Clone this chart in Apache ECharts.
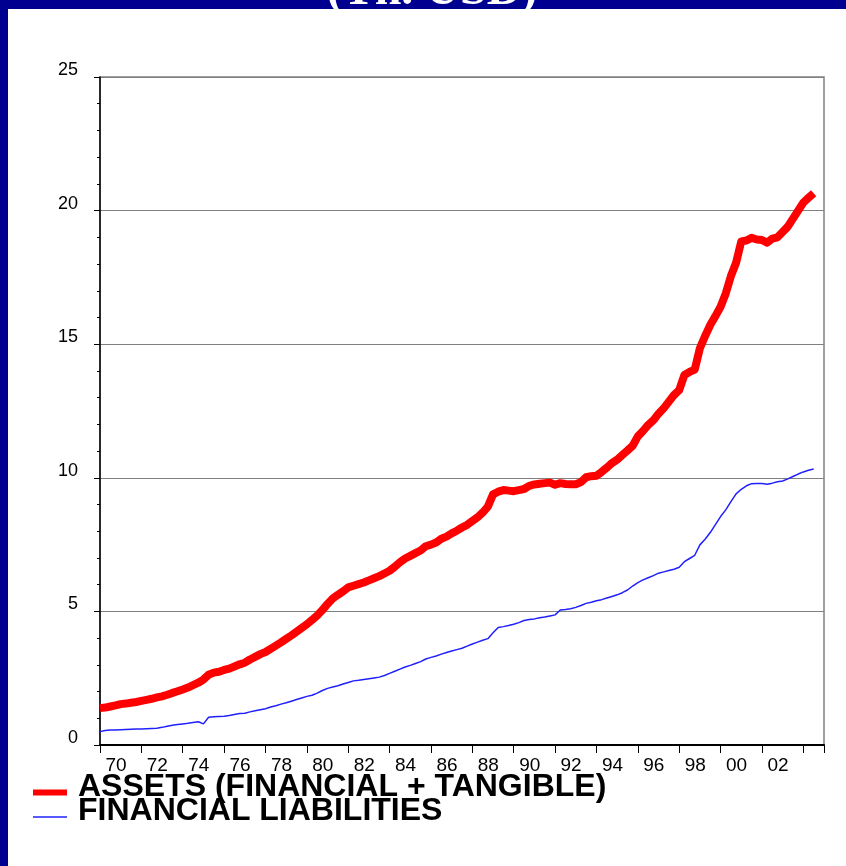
<!DOCTYPE html>
<html>
<head>
<meta charset="utf-8">
<script src="https://cdn.jsdelivr.net/npm/echarts@6/dist/echarts.min.js"></script>
<style>
  html, body { margin: 0; padding: 0; background: #000090; }
  #chart { width: 846px; height: 866px; }
</style>
</head>
<body>
<div id="chart"></div>
<script>
// Quarterly series, 1970Q1 onward (trillions of USD)
const startYear = 1970;
const quartersPerYear = 4;

const assets = [
  1.38, 1.40, 1.44, 1.48,   // 1970
  1.53, 1.55, 1.58, 1.61,   // 1971
  1.65, 1.69, 1.73, 1.78,   // 1972
  1.82, 1.88, 1.95, 2.01,   // 1973
  2.08, 2.15, 2.24, 2.33,   // 1974
  2.45, 2.63, 2.71, 2.74,   // 1975
  2.81, 2.86, 2.94, 3.02,   // 1976
  3.08, 3.20, 3.30, 3.40,   // 1977
  3.48, 3.60, 3.72, 3.84,   // 1978
  3.97, 4.10, 4.24, 4.38,   // 1979
  4.52, 4.68, 4.85, 5.05,   // 1980
  5.28, 5.48, 5.62, 5.75,   // 1981
  5.90, 5.96, 6.02, 6.08,   // 1982
  6.16, 6.24, 6.32, 6.42,   // 1983
  6.52, 6.67, 6.84, 6.98,   // 1984
  7.08, 7.18, 7.28, 7.44,   // 1985
  7.50, 7.58, 7.72, 7.80,   // 1986
  7.92, 8.02, 8.14, 8.24,   // 1987
  8.38, 8.52, 8.70, 8.92,   // 1988
  9.38, 9.48, 9.54, 9.52,   // 1989
  9.50, 9.54, 9.58, 9.70,   // 1990
  9.75, 9.78, 9.80, 9.82,   // 1991
  9.74, 9.80, 9.77, 9.76,   // 1992
  9.76, 9.84, 10.02, 10.06, // 1993
  10.08, 10.22, 10.38, 10.55, // 1994
  10.68, 10.85, 11.02, 11.20, // 1995
  11.55, 11.75, 11.98, 12.15, // 1996
  12.40, 12.60, 12.85, 13.10, // 1997
  13.28, 13.85, 13.96, 14.05, // 1998
  14.85, 15.30, 15.72, 16.05, // 1999
  16.40, 16.90, 17.55, 18.05, // 2000
  18.85, 18.88, 18.98, 18.92, // 2001
  18.90, 18.80, 18.95, 19.00, // 2002
  19.20, 19.40, 19.70, 20.00, // 2003
  20.30, 20.48, 20.65         // 2004
];

const liabilities = [
  0.50, 0.54, 0.56, 0.56,   // 1970
  0.57, 0.58, 0.59, 0.60,   // 1971
  0.60, 0.61, 0.62, 0.63,   // 1972
  0.66, 0.70, 0.74, 0.77,   // 1973
  0.79, 0.81, 0.84, 0.87,   // 1974
  0.79, 1.04, 1.06, 1.07,   // 1975
  1.08, 1.10, 1.14, 1.18,   // 1976
  1.19, 1.24, 1.28, 1.32,   // 1977
  1.36, 1.42, 1.47, 1.53,   // 1978
  1.58, 1.64, 1.70, 1.76,   // 1979
  1.82, 1.86, 1.94, 2.04,   // 1980
  2.12, 2.17, 2.22, 2.28,   // 1981
  2.34, 2.40, 2.42, 2.45,   // 1982
  2.48, 2.51, 2.54, 2.60,   // 1983
  2.68, 2.76, 2.84, 2.92,   // 1984
  2.98, 3.05, 3.12, 3.22,   // 1985
  3.28, 3.33, 3.40, 3.46,   // 1986
  3.52, 3.57, 3.62, 3.70,   // 1987
  3.78, 3.85, 3.92, 3.98,   // 1988
  4.20, 4.40, 4.43, 4.47,   // 1989
  4.52, 4.58, 4.66, 4.70,   // 1990
  4.72, 4.76, 4.79, 4.83,   // 1991
  4.87, 5.05, 5.07, 5.10,   // 1992
  5.15, 5.22, 5.30, 5.34,   // 1993
  5.40, 5.44, 5.50, 5.56,   // 1994
  5.62, 5.70, 5.80, 5.95,   // 1995
  6.08, 6.18, 6.26, 6.34,   // 1996
  6.43, 6.48, 6.53, 6.58,   // 1997
  6.65, 6.86, 6.98, 7.10,   // 1998
  7.49, 7.70, 7.95, 8.25,   // 1999
  8.55, 8.80, 9.11, 9.40,   // 2000
  9.57, 9.70, 9.78, 9.79,   // 2001
  9.79, 9.76, 9.80, 9.85,   // 2002
  9.88, 9.96, 10.05, 10.14, // 2003
  10.22, 10.28, 10.33       // 2004
];

const seriesNames = ['ASSETS (FINANCIAL + TANGIBLE)', 'FINANCIAL LIABILITIES'];
const titleText = '(Tn. USD)';
const yTicks = [0, 5, 10, 15, 20, 25];
const xRange = [1970, 2005];

// Pair each quarterly value with its time position (year + quarter fraction)
function toPoints(values) {
  return values.map((v, i) => [startYear + i / quartersPerYear, v]);
}

const FONT = '"Liberation Sans", Arial, sans-serif';

// Legend swatches sit a little below the middle of their text line and leave
// a gap before the text: the extra moveTo points pad the icon box.
const thickSwatch = 'path://M0,0 M40,24 M0,14 L34,14 L34,20 L0,20 Z';
const thinSwatch = 'path://M0,0 M40,24 M0,16.75 L34,16.75 L34,18.25 L0,18.25 Z';

const legendText = {
  fontFamily: FONT, fontSize: 32, fontWeight: 'bold', color: '#000',
  lineHeight: 24
};

const chart = echarts.init(document.getElementById('chart'), null, { renderer: 'canvas' });

chart.setOption({
  animation: false,
  backgroundColor: '#000090',
  graphic: [
    {
      type: 'rect',
      z: -100,
      left: 8, top: 9,
      shape: { width: 846 - 8, height: 866 - 9 },
      style: { fill: '#ffffff' }
    },
    {
      type: 'text',
      z: -50,
      x: 432, y: -8,
      style: {
        text: titleText,
        font: 'bold 48px "Liberation Serif", "Times New Roman", serif',
        fill: '#ffffff',
        align: 'center',
        verticalAlign: 'middle'
      }
    }
  ],
  grid: {
    left: 100, top: 77, width: 724, height: 668,
    show: true, borderColor: '#808080', borderWidth: 1.5,
    backgroundColor: 'transparent'
  },
  legend: [
    {
      data: [seriesNames[0]],
      left: 33, top: 771.5, padding: 0,
      icon: thickSwatch, itemWidth: 40, itemHeight: 24,
      selectedMode: false,
      textStyle: legendText
    },
    {
      data: [seriesNames[1]],
      left: 33, top: 795.5, padding: 0,
      icon: thinSwatch, itemWidth: 40, itemHeight: 24,
      selectedMode: false,
      textStyle: legendText
    }
  ],
  xAxis: {
    type: 'value',
    min: xRange[0], max: xRange[1], interval: 2,
    axisLine: { show: true, lineStyle: { color: '#000', width: 2 } },
    axisTick: { show: true, length: 8, lineStyle: { color: '#000', width: 1 } },
    splitLine: { show: false },
    axisLabel: {
      margin: 11,
      fontFamily: FONT, fontSize: 19, color: '#000',
      padding: [0, 0, 0, 32],
      showMaxLabel: true, showMinLabel: true,
      formatter: v => (v >= 2004 ? '' : String(v % 100).padStart(2, '0'))
    }
  },
  yAxis: {
    type: 'value',
    min: yTicks[0], max: yTicks[yTicks.length - 1], interval: 5,
    axisLine: { show: true, lineStyle: { color: '#000', width: 1.5 } },
    axisTick: { show: true, length: 6, lineStyle: { color: '#000', width: 1 } },
    minorTick: { show: true, splitNumber: 5, length: 3, lineStyle: { color: '#000', width: 1 } },
    splitLine: { show: true, lineStyle: { color: '#808080', width: 1.2 } },
    axisLabel: {
      margin: 22,
      fontFamily: FONT, fontSize: 18, color: '#000',
      verticalAlign: 'bottom', lineHeight: 14
    }
  },
  series: [
    {
      name: seriesNames[0],
      type: 'line',
      data: toPoints(assets),
      symbol: 'none',
      z: 3,
      lineStyle: { color: '#ff0000', width: 8, join: 'round', cap: 'butt' },
      itemStyle: { color: '#ff0000' }
    },
    {
      name: seriesNames[1],
      type: 'line',
      data: toPoints(liabilities),
      symbol: 'none',
      z: 2,
      lineStyle: { color: '#2020ff', width: 1.5 },
      itemStyle: { color: '#2020ff' }
    }
  ]
});
</script>
</body>
</html>
